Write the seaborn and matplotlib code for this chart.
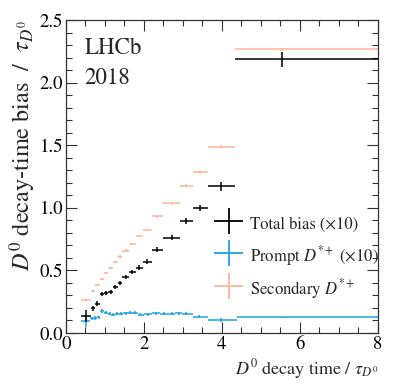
import numpy as np
import matplotlib
matplotlib.use("Agg")
import matplotlib.pyplot as plt
import seaborn as sns
from matplotlib.ticker import MultipleLocator
from matplotlib.legend_handler import HandlerErrorbar

# ---- data (plotted values) ----
# Total bias (x10) and Secondary D*+ share the same bins
x_tot = [0.51, 0.70, 0.81, 0.94, 1.04, 1.15, 1.27, 1.38, 1.53, 1.70, 1.88, 2.09, 2.35, 2.71, 3.08, 3.44, 3.99, 5.53]
lo_tot = [0.38, 0.64, 0.76, 0.87, 0.99, 1.09, 1.21, 1.33, 1.45, 1.61, 1.79, 1.98, 2.21, 2.50, 2.92, 3.25, 3.65, 4.35]
hi_tot = [0.64, 0.76, 0.87, 0.99, 1.09, 1.21, 1.33, 1.45, 1.61, 1.79, 1.98, 2.21, 2.50, 2.92, 3.25, 3.65, 4.35, 8.00]
y_tot = [0.136, 0.197, 0.232, 0.309, 0.317, 0.330, 0.365, 0.397, 0.447, 0.487, 0.522, 0.570, 0.665, 0.761, 0.897, 0.996, 1.170, 2.188]
e_tot = [0.045, 0.020, 0.020, 0.015, 0.015, 0.015, 0.015, 0.015, 0.015, 0.018, 0.018, 0.018, 0.020, 0.020, 0.025, 0.025, 0.035, 0.060]

y_sec = [0.264, 0.335, 0.385, 0.431, 0.477, 0.517, 0.565, 0.610, 0.658, 0.711, 0.775, 0.823, 0.932, 1.036, 1.177, 1.283, 1.488, 2.266]
e_sec = [0.010, 0.009, 0.009, 0.009, 0.009, 0.009, 0.009, 0.009, 0.009, 0.009, 0.009, 0.009, 0.010, 0.010, 0.010, 0.010, 0.011, 0.014]

# Prompt D*+ (x10)
x_pr = [0.51, 0.66, 0.75, 0.84, 0.93, 1.02, 1.12, 1.21, 1.31, 1.42, 1.53, 1.65, 1.77, 1.91, 2.11, 2.32, 2.51, 2.71, 2.90, 3.08, 3.42, 3.99, 5.53]
lo_pr = [0.38, 0.61, 0.70, 0.79, 0.88, 0.97, 1.07, 1.16, 1.26, 1.36, 1.47, 1.59, 1.71, 1.84, 2.00, 2.21, 2.42, 2.61, 2.80, 2.99, 3.26, 3.65, 4.38]
hi_pr = [0.61, 0.70, 0.79, 0.88, 0.97, 1.07, 1.16, 1.26, 1.36, 1.47, 1.59, 1.71, 1.84, 2.00, 2.21, 2.42, 2.61, 2.80, 2.99, 3.26, 3.65, 4.38, 8.00]
y_pr = [0.096, 0.116, 0.120, 0.124, 0.176, 0.162, 0.152, 0.145, 0.152, 0.152, 0.157, 0.162, 0.160, 0.144, 0.150, 0.156, 0.152, 0.152, 0.157, 0.152, 0.130, 0.106, 0.125]
e_pr = [0.045, 0.015, 0.013, 0.013, 0.013, 0.012, 0.012, 0.012, 0.012, 0.012, 0.012, 0.012, 0.012, 0.012, 0.012, 0.012, 0.012, 0.012, 0.012, 0.012, 0.012, 0.015, 0.004]

labels = ["Total bias (×10)", r"Prompt $D^{*+}$ (×10)", r"Secondary $D^{*+}$"]
colors = ["black", "#1ea3e6", "#ffb597"]

sns.set_theme(style="ticks")
plt.rcParams["font.family"] = ["STIXGeneral", "DejaVu Serif"]
plt.rcParams["mathtext.fontset"] = "stix"

fig = plt.figure(figsize=(3.99, 3.88), dpi=100)
ax = fig.add_axes([0.165, 0.1418, 0.782, 0.8067])


def xerr(x, lo, hi):
    x = np.asarray(x); lo = np.asarray(lo); hi = np.asarray(hi)
    return np.vstack([x - lo, hi - x])


kw = dict(fmt="none", elinewidth=1.1, capsize=0)
ax.errorbar(x_tot, y_sec, xerr=xerr(x_tot, lo_tot, hi_tot), yerr=e_sec, ecolor=colors[2], **kw)
ax.errorbar(x_pr, y_pr, xerr=xerr(x_pr, lo_pr, hi_pr), yerr=e_pr, ecolor=colors[1], **kw)
ax.errorbar(x_tot, y_tot, xerr=xerr(x_tot, lo_tot, hi_tot), yerr=e_tot, ecolor=colors[0], **kw)

# legend proxies (errorbar style with caps)
handles = []
for c, lab in zip(colors, labels):
    h = ax.errorbar([], [], xerr=[], yerr=[], fmt="none", ecolor=c, elinewidth=1.3, capsize=3.5, label=lab)
    handles.append(h)
ax.legend(handles=handles, labels=labels, loc="center left", bbox_to_anchor=(0.475, 0.243),
          frameon=False, fontsize=12, handlelength=1.75, handletextpad=0.4,
          labelspacing=0.55, borderpad=0, borderaxespad=0, handleheight=1.7,
          handler_map={type(handles[0]): HandlerErrorbar(xerr_size=0.85, yerr_size=0.78)})

ax.set_xlim(0, 8)
ax.set_ylim(0, 2.5)
ax.xaxis.set_major_locator(MultipleLocator(2))
ax.xaxis.set_minor_locator(MultipleLocator(0.5))
ax.yaxis.set_major_locator(MultipleLocator(0.5))
ax.yaxis.set_minor_locator(MultipleLocator(0.1))
ax.yaxis.set_major_formatter(matplotlib.ticker.FormatStrFormatter("%.1f"))
ax.tick_params(which="both", direction="in", top=True, right=True, labelsize=13.5, width=0.8, colors="#333333", labelcolor="black")
ax.tick_params(which="major", length=8, pad=2)
ax.tick_params(which="minor", length=4.3)
for s in ax.spines.values():
    s.set_linewidth(0.9)
    s.set_color("#333333")

ax.set_xlabel(r"$D^0$ decay time / $\tau_{D^0}$", fontsize=13, loc="right", labelpad=3)
ax.set_ylabel(r"$D^0$ decay-time bias  /  $\tau_{D^0}$", fontsize=17.5, loc="top", labelpad=1)

ax.text(0.06, 0.89, "LHCb", transform=ax.transAxes, fontsize=16.5, va="baseline")
ax.text(0.06, 0.795, "2018", transform=ax.transAxes, fontsize=16.5, va="baseline")

fig.savefig("out.png", dpi=100)
